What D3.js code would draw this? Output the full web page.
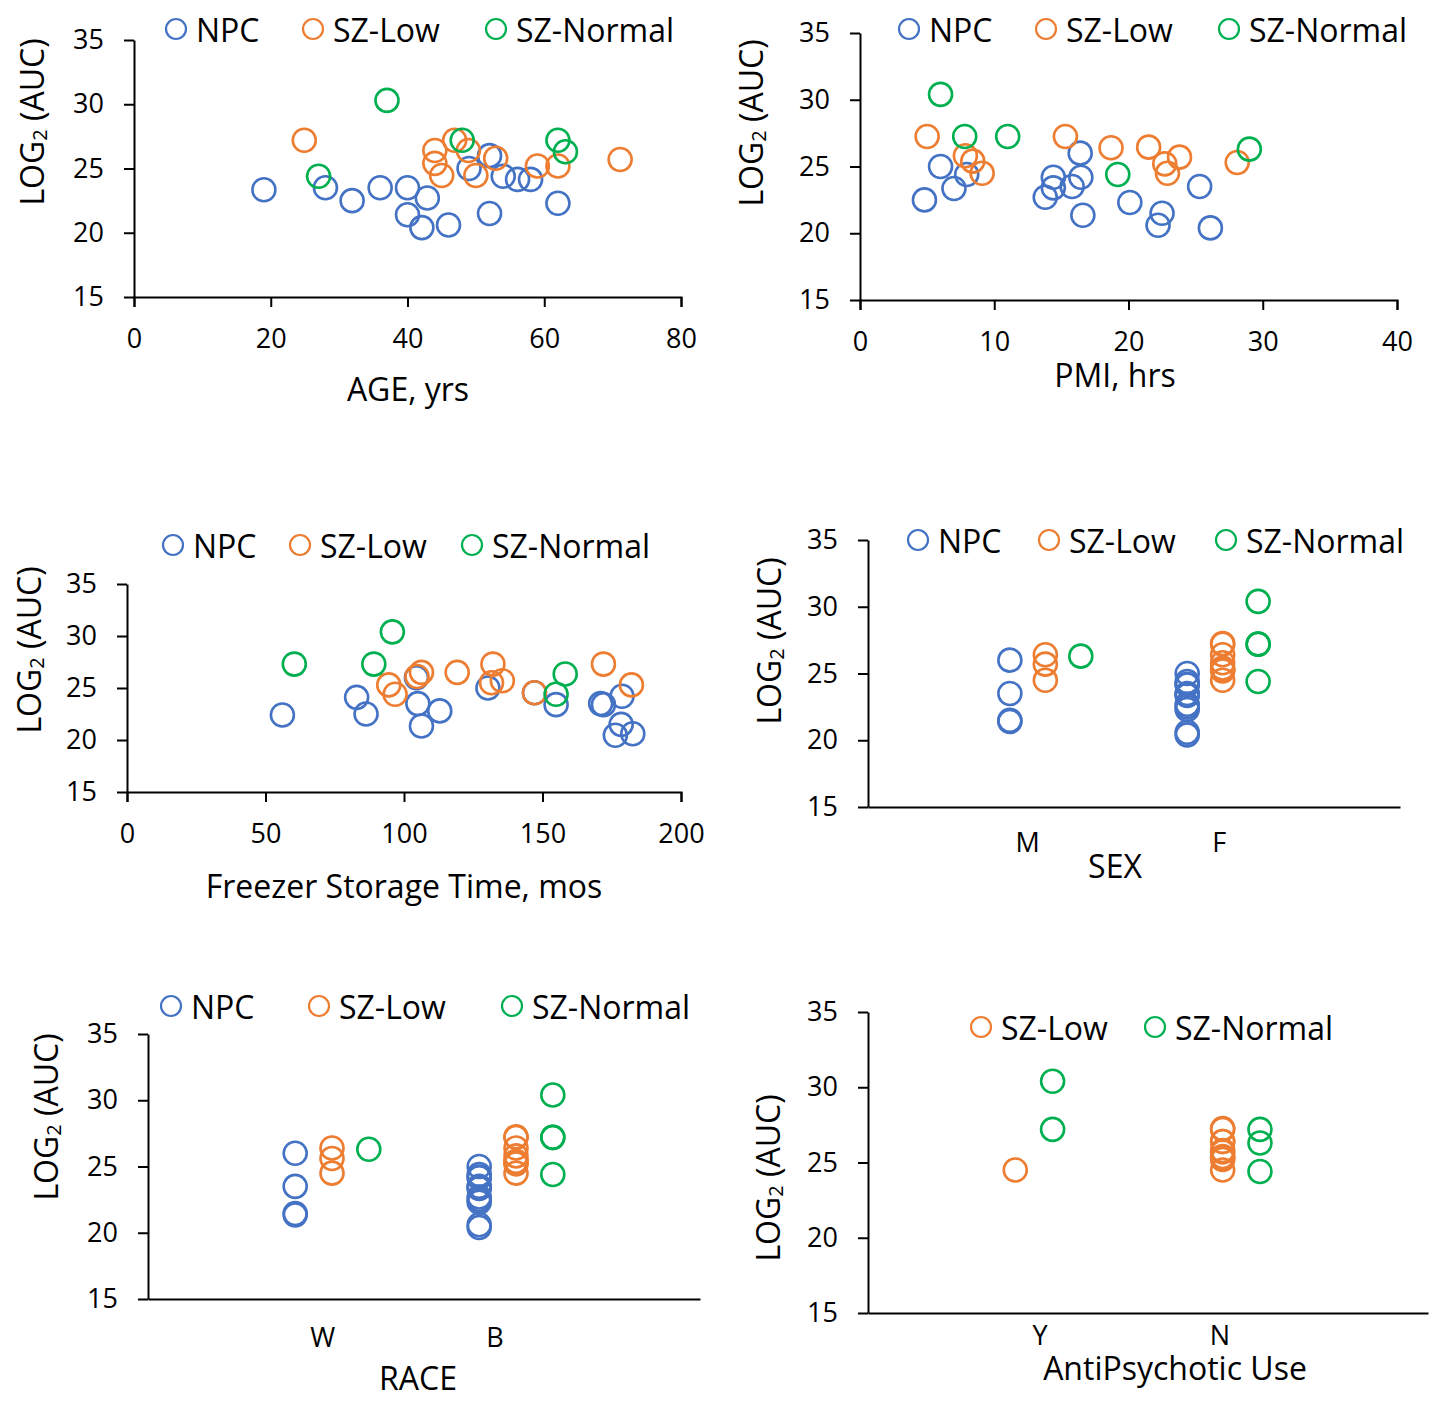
<!DOCTYPE html>
<html>
<head>
<meta charset="utf-8">
<script src="https://cdn.jsdelivr.net/npm/d3@7"></script>
<style>
  body { margin: 0; background: #fff; }
  svg { font-family: "Open Sans", "Noto Sans", sans-serif; }
</style>
</head>
<body>
<svg width="1432" height="1403"></svg>
<script>
// series names
const seriesNames = ["NPC", "SZ-Low", "SZ-Normal"];
const yTickValues = [15, 20, 25, 30, 35];

// AGE, yrs  [x, log2 AUC]
const ageNPC = [[19.0,23.35],[28.0,23.5],[31.9,22.5],[36.0,23.5],[40.0,23.5],[40.0,21.4],[42.9,22.7],[42.1,20.4],[46.0,20.6],[49.0,25.0],[52.0,26.0],[52.0,21.5],[54.0,24.4],[56.1,24.15],[58.0,24.15],[62.0,22.3]];
const ageLow = [[24.9,27.2],[44.0,26.4],[44.0,25.4],[45.0,24.45],[46.9,27.2],[48.9,26.4],[50.0,24.45],[52.9,25.8],[59.0,25.2],[62.0,25.2],[71.1,25.7]];
const ageNormal = [[27.0,24.4],[37.0,30.3],[48.0,27.2],[62.0,27.2],[63.1,26.3]];

// PMI, hrs
const pmiNPC = [[4.8,22.5],[6.0,25.0],[7.0,23.35],[7.95,24.4],[13.8,22.7],[14.4,23.4],[14.4,24.2],[15.8,23.5],[16.45,24.2],[16.4,26.0],[16.6,21.35],[20.1,22.3],[22.5,21.5],[22.2,20.6],[25.3,23.5],[26.1,20.4]];
const pmiLow = [[5.0,27.25],[7.85,25.8],[8.4,25.4],[9.1,24.5],[15.3,27.25],[18.7,26.4],[21.5,26.45],[22.7,25.2],[23.8,25.7],[22.9,24.5],[28.1,25.3]];
const pmiNormal = [[6.0,30.4],[7.8,27.25],[11.0,27.25],[19.2,24.4],[29.0,26.3]];

// Freezer Storage Time, mos
const fstNPC = [[56.1,22.4],[82.9,24.1],[86.3,22.5],[104.5,26.0],[105,23.5],[106.3,21.35],[112.9,22.8],[130.3,25.0],[147.1,24.55],[154.9,23.4],[171,23.5],[172,23.4],[178.7,24.2],[178.4,21.5],[176.3,20.45],[182.6,20.6]];
const fstLow = [[94.5,25.3],[96.8,24.4],[104.7,26.1],[106.3,26.5],[119.2,26.5],[132.1,27.3],[131.6,25.5],[135.5,25.7],[147.1,24.55],[172,27.3],[182.1,25.3]];
const fstNormal = [[60.4,27.3],[89.1,27.3],[95.8,30.4],[158.2,26.35],[154.9,24.4]];

// SEX
const sexCats = ["M", "F"];
const sexNPC = [[26.0,23.5,21.5,21.4],[20.4,20.6,22.3,22.5,22.7,23.35,23.45,23.5,24.15,24.2,24.4,25.0]];
const sexLow = [[26.4,25.7,24.5],[27.2,27.25,26.4,25.8,25.4,25.3,25.2,24.5]];
const sexNormal = [[26.3],[30.4,27.2,27.2,24.4]];

// RACE
const raceCats = ["W", "B"];
const raceNPC = [[26.0,23.5,21.45,21.35],[20.4,20.6,22.3,22.5,22.7,23.35,23.45,23.5,24.15,24.2,24.4,25.0]];
const raceLow = [[26.4,25.6,24.5],[27.2,27.25,26.4,25.8,25.4,25.3,25.2,24.5]];
const raceNormal = [[26.3],[30.4,27.2,27.2,24.4]];

// AntiPsychotic Use
const apCats = ["Y", "N"];
const apLow = [[24.5],[27.2,27.25,26.4,26.4,25.8,25.7,25.4,25.3,25.2,24.5]];
const apNormal = [[30.4,27.2],[27.2,26.3,24.4]];

const colors = {"NPC": "#4472C4", "SZ-Low": "#ED7D31", "SZ-Normal": "#00B050"};

const svg = d3.select("svg");

// build a categorical series into [x, y] points
function catPoints(groups, offset) {
  const pts = [];
  groups.forEach((vals, i) => vals.forEach(v => pts.push([i + 1 + offset, v])));
  return pts;
}

const panels = [
  {
    left: 134, right: 681, top: 40, bottom: 297, xDomain: [0, 80], xTicks: [0, 20, 40, 60, 80],
    series: [["NPC", ageNPC], ["SZ-Low", ageLow], ["SZ-Normal", ageNormal]],
    legend: {y: 29, xs: [176, 313, 496]},
    yTitle: [31, 122], xTitle: ["AGE, yrs", 408, 388]
  },
  {
    left: 860, right: 1397, top: 33, bottom: 300, xDomain: [0, 40], xTicks: [0, 10, 20, 30, 40],
    series: [["NPC", pmiNPC], ["SZ-Low", pmiLow], ["SZ-Normal", pmiNormal]],
    legend: {y: 29, xs: [909, 1046, 1229]},
    yTitle: [750, 123], xTitle: ["PMI, hrs", 1115, 374]
  },
  {
    left: 127, right: 681, top: 584, bottom: 792, xDomain: [0, 200], xTicks: [0, 50, 100, 150, 200],
    series: [["NPC", fstNPC], ["SZ-Low", fstLow], ["SZ-Normal", fstNormal]],
    legend: {y: 545, xs: [173, 300, 472]},
    yTitle: [28, 650], xTitle: ["Freezer Storage Time, mos", 404, 885]
  },
  {
    left: 868, right: 1400, top: 540, bottom: 807, xDomain: [0, 3],
    series: [["NPC", catPoints(sexNPC, -0.2)], ["SZ-Low", catPoints(sexLow, 0)], ["SZ-Normal", catPoints(sexNormal, 0.2)]],
    cats: sexCats, catX: [0.9, 1.98], catY: 841,
    legend: {y: 540, xs: [918, 1049, 1226]},
    yTitle: [768, 641], xTitle: ["SEX", 1115, 865]
  },
  {
    left: 148, right: 700, top: 1034, bottom: 1299, xDomain: [0, 3],
    series: [["NPC", catPoints(raceNPC, -0.2)], ["SZ-Low", catPoints(raceLow, 0)], ["SZ-Normal", catPoints(raceNormal, 0.2)]],
    cats: raceCats, catX: [0.95, 1.886], catY: 1336,
    legend: {y: 1006, xs: [171, 319, 512]},
    yTitle: [45, 1117], xTitle: ["RACE", 418, 1377]
  },
  {
    left: 868, right: 1428, top: 1012, bottom: 1313, xDomain: [0.2, 2.9],
    series: [["SZ-Low", catPoints(apLow, -0.09)], ["SZ-Normal", catPoints(apNormal, 0.09)]],
    cats: apCats, catX: [1.03, 1.897], catY: 1334,
    legend: {y: 1027, xs: [981, 1155]},
    yTitle: [767, 1178], xTitle: ["AntiPsychotic Use", 1175, 1367]
  }
];

function styleAxis(g) {
  g.select(".domain").attr("stroke", "#000").attr("stroke-width", 2);
  g.selectAll(".tick line").attr("stroke", "#000").attr("stroke-width", 2);
  g.selectAll(".tick text").attr("fill", "#000").attr("font-size", 27)
    .attr("font-family", "'Open Sans', 'Noto Sans', sans-serif");
}

panels.forEach(p => {
  const x = d3.scaleLinear().domain(p.xDomain).range([p.left, p.right]);
  const y = d3.scaleLinear().domain([15, 35]).range([p.bottom, p.top]);

  // x axis
  const xAxis = d3.axisBottom(x).tickSizeOuter(0);
  if (p.xTicks) {
    xAxis.tickValues(p.xTicks).tickSize(10).tickPadding(22).tickFormat(d3.format("d"));
  } else {
    xAxis.tickValues([]);
  }
  svg.append("g")
    .attr("transform", `translate(0,${p.bottom})`)
    .call(xAxis)
    .call(styleAxis);

  // y axis
  svg.append("g")
    .attr("transform", `translate(${p.left},0)`)
    .call(d3.axisLeft(y).tickValues(yTickValues).tickSize(10).tickSizeOuter(0).tickPadding(20))
    .call(styleAxis);

  // category labels
  if (p.cats) {
    svg.append("g").selectAll("text")
      .data(p.cats)
      .join("text")
      .attr("x", (d, i) => x(p.catX[i]))
      .attr("y", p.catY)
      .attr("text-anchor", "middle")
      .attr("dominant-baseline", "central")
      .attr("font-size", 27)
      .text(d => d);
  }

  // points
  p.series.forEach(([name, pts]) => {
    svg.append("g").selectAll("circle")
      .data(pts)
      .join("circle")
      .attr("cx", d => x(d[0]))
      .attr("cy", d => y(d[1]))
      .attr("r", 11.5)
      .attr("fill", "none")
      .attr("stroke", colors[name])
      .attr("stroke-width", 2.6);
  });

  // legend
  const lg = svg.append("g").selectAll("g")
    .data(p.series.map(s => s[0]))
    .join("g")
    .attr("transform", (d, i) => `translate(${p.legend.xs[i]},${p.legend.y})`);
  lg.append("circle")
    .attr("r", 10)
    .attr("fill", "none")
    .attr("stroke", d => colors[d])
    .attr("stroke-width", 2.2);
  lg.append("text")
    .attr("x", 20)
    .attr("dominant-baseline", "central")
    .attr("font-size", 32)
    .text(d => d);

  // x title
  svg.append("text")
    .attr("x", p.xTitle[1])
    .attr("y", p.xTitle[2])
    .attr("text-anchor", "middle")
    .attr("dominant-baseline", "central")
    .attr("font-size", 32)
    .text(p.xTitle[0]);

  // y title with subscript
  const yt = svg.append("text")
    .attr("transform", `translate(${p.yTitle[0]},${p.yTitle[1]}) rotate(-90)`)
    .attr("text-anchor", "middle")
    .attr("dominant-baseline", "central")
    .attr("font-size", 32);
  yt.append("tspan").text("LOG");
  yt.append("tspan").attr("font-size", 20).attr("dy", 8).text("2");
  yt.append("tspan").attr("dy", -8).text(" (AUC)");
});
</script>
</body>
</html>
